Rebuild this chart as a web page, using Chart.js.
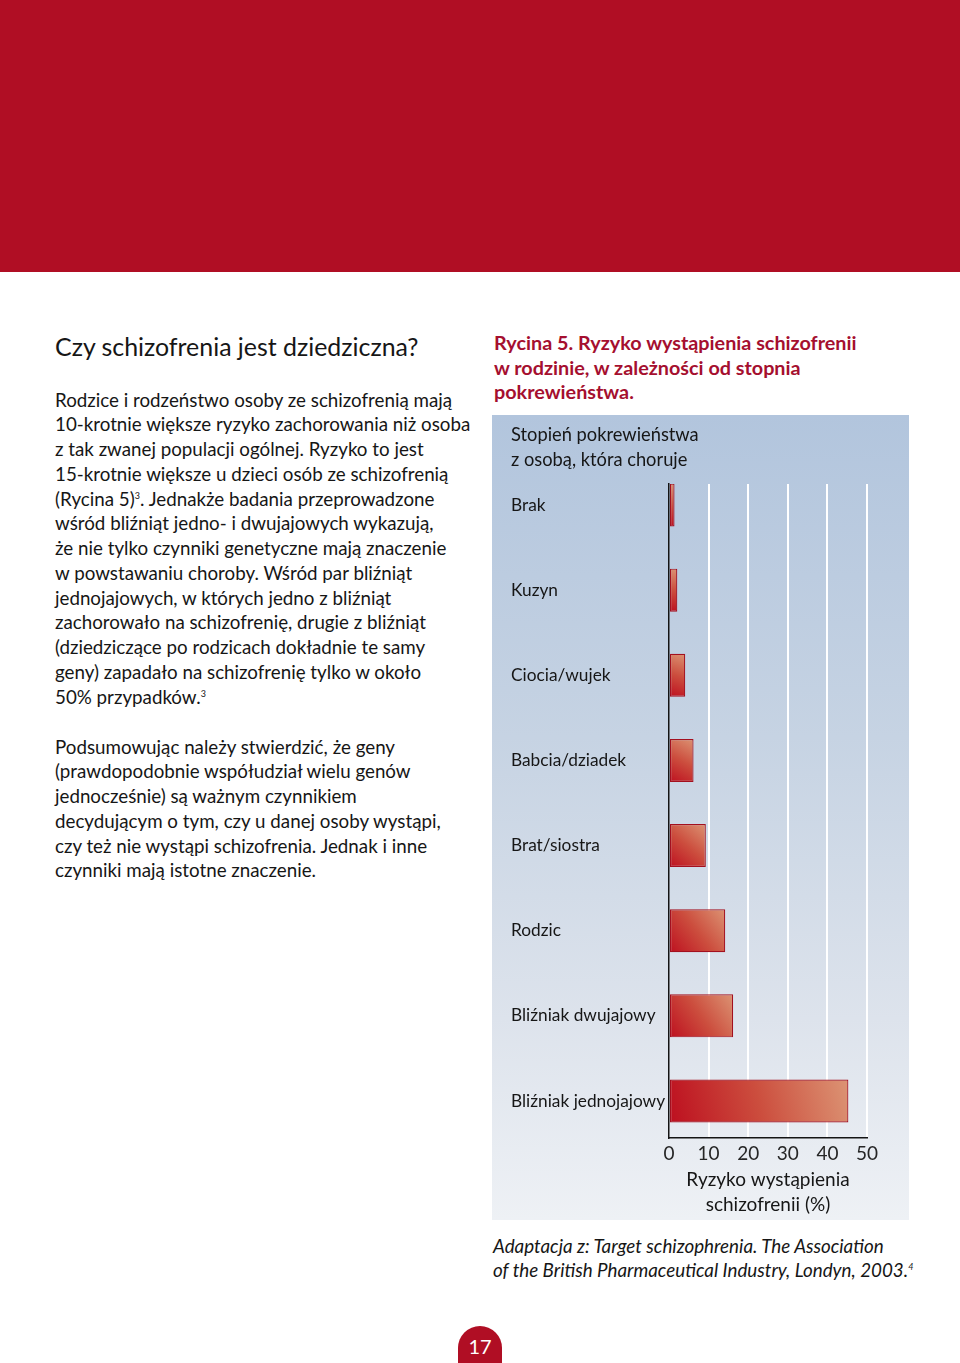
<!DOCTYPE html>
<html>
<head>
<meta charset="utf-8">
<script src="https://cdn.jsdelivr.net/npm/chart.js@4.4.0/dist/chart.umd.min.js"></script>
<style>
  html, body { margin: 0; padding: 0; }
  body { width: 960px; height: 1363px; position: relative; overflow: hidden; background: #ffffff;
         font-family: Lato, "Open Sans", sans-serif; color: #161616; }
  #hdr { position: absolute; left: 0; top: 0; width: 960px; height: 272px; background: #b00e24; }
  #h1 { position: absolute; left: 55px; top: 329px; font-size: 24.9px; line-height: 34px; white-space: pre; color: #161616; }
  .body { position: absolute; left: 55px; font-size: 18.75px; line-height: 24.75px; white-space: pre; color: #161616; }
  #p1 { top: 387.6px; }
  #p2 { top: 734.6px; }
  .sup { font-size: 9px; position: relative; top: -7px; line-height: 0; }
  #cap { position: absolute; left: 494px; top: 330px; font-size: 19.8px; line-height: 24.5px; font-weight: bold;
         white-space: pre; color: #a50f2f; }
  #panel { position: absolute; left: 492px; top: 415px; width: 417px; height: 805px;
           background: linear-gradient(to bottom, #b2c5dd 0%, #c6d3e3 40%, #dde3ec 75%, #eef1f5 100%); }
  #chart { position: absolute; left: 0; top: 0; }
  #src { position: absolute; left: 493px; top: 1233.5px; font-size: 18.8px; line-height: 24.5px; font-style: italic;
         white-space: pre; color: #161616; }
  #pg { position: absolute; left: 458px; top: 1326px; width: 44px; height: 37px; background: #b00e24;
        border-radius: 22px 22px 0 0; color: #fff; font-size: 20px; line-height: 40px; text-align: center; }
</style>
</head>
<body>
<div id="hdr"></div>
<div id="h1">Czy schizofrenia jest dziedziczna?</div>
<div class="body" id="p1">Rodzice i rodzeństwo osoby ze schizofrenią mają
10-krotnie większe ryzyko zachorowania niż osoba
z tak zwanej populacji ogólnej. Ryzyko to jest
15-krotnie większe u dzieci osób ze schizofrenią
(Rycina 5)<span class="sup">3</span>. Jednakże badania przeprowadzone
wśród bliźniąt jedno- i dwujajowych wykazują,
że nie tylko czynniki genetyczne mają znaczenie
w powstawaniu choroby. Wśród par bliźniąt
jednojajowych, w których jedno z bliźniąt
zachorowało na schizofrenię, drugie z bliźniąt
(dziedziczące po rodzicach dokładnie te samy
geny) zapadało na schizofrenię tylko w około
50% przypadków.<span class="sup">3</span></div>
<div class="body" id="p2">Podsumowując należy stwierdzić, że geny
(prawdopodobnie współudział wielu genów
jednocześnie) są ważnym czynnikiem
decydującym o tym, czy u danej osoby wystąpi,
czy też nie wystąpi schizofrenia. Jednak i inne
czynniki mają istotne znaczenie.</div>
<div id="cap">Rycina 5. Ryzyko wystąpienia schizofrenii
w rodzinie, w zależności od stopnia
pokrewieństwa.</div>
<div id="panel"><canvas id="chart" width="417" height="805"></canvas></div>
<div id="src">Adaptacja z: Target schizophrenia. The Association
of the British Pharmaceutical Industry, Londyn, 2003.<span class="sup">4</span></div>
<div id="pg">17</div>

<script>
const categories = ['Brak', 'Kuzyn', 'Ciocia/wujek', 'Babcia/dziadek', 'Brat/siostra', 'Rodzic',
                    'Bliźniak dwujajowy', 'Bliźniak jednojajowy'];
const riskValues = [1.4, 2.1, 4.1, 6.2, 9.3, 14.2, 16.2, 45.3];
const xTickValues = [0, 10, 20, 30, 40, 50];
const yHeading = ['Stopień pokrewieństwa', 'z osobą, która choruje'];
const xTitle = ['Ryzyko wystąpienia', 'schizofrenii (%)'];

Chart.defaults.font.family = 'Lato, "Open Sans", sans-serif';

const points = categories.map((c, i) => ({ x: riskValues[i], y: i }));

function barFill(ctx) {
  const chart = ctx.chart;
  if (!chart.chartArea || ctx.type !== 'data') return '#c8402f';
  const xs = chart.scales.x, ys = chart.scales.y;
  const x0 = xs.getPixelForValue(0);
  const x1 = xs.getPixelForValue(ctx.parsed.x);
  const yc = ys.getPixelForValue(ctx.parsed.y);
  const g = chart.ctx.createLinearGradient(x0, yc + 22, x1, yc - 22);
  g.addColorStop(0, '#bd0f1f');
  g.addColorStop(0.5, '#cc4e3e');
  g.addColorStop(1, '#dc9474');
  return g;
}

new Chart(document.getElementById('chart'), {
  type: 'bar',
  data: {
    datasets: [{
      data: points,
      backgroundColor: barFill,
      borderColor: '#a3101f',
      borderWidth: 1.2,
      borderSkipped: false,
      categoryPercentage: 1,
      barPercentage: 0.505
    }]
  },
  options: {
    indexAxis: 'y',
    responsive: false,
    animation: false,
    layout: { padding: { left: 19, right: 42, top: 0, bottom: 0 } },
    plugins: {
      legend: { display: false },
      tooltip: { enabled: false },
      title: {
        display: true, text: yHeading, align: 'start', color: '#161616',
        font: { size: 18.3, weight: 'normal', lineHeight: 25 / 18.3 },
        padding: { top: 7.5, bottom: 11.5 }
      }
    },
    scales: {
      x: {
        type: 'linear', min: 0, max: 50, position: 'bottom',
        afterBuildTicks: s => { s.ticks = xTickValues.map(v => ({ value: v })); },
        grid: {
          color: c => (c.tick && c.tick.value === 0) ? 'rgba(0,0,0,0)' : '#ffffff',
          lineWidth: 2, drawTicks: false
        },
        border: { display: true, color: '#141414', width: 1.5 },
        ticks: { color: '#262626', font: { size: 19 }, padding: 4, maxRotation: 0 },
        title: {
          display: true, text: xTitle, color: '#161616',
          font: { size: 19, lineHeight: 25 / 19 }, padding: { top: 2, bottom: 2.5 }
        },
        afterFit: s => { s.height = 82; }
      },
      y: {
        type: 'linear', reverse: true, offset: false, min: -0.247, max: 7.435,
        afterBuildTicks: s => { s.ticks = categories.map((c, i) => ({ value: i })); },
        ticks: {
          callback: v => categories[v], crossAlign: 'far', color: '#161616',
          font: { size: 17.3 }, padding: 0, autoSkip: false
        },
        grid: { display: true, offset: false, drawOnChartArea: false, drawTicks: false },
        border: { display: true, color: '#141414', width: 1.5 },
        afterFit: s => { s.width = 158; }
      }
    }
  }
});
</script>
</body>
</html>
